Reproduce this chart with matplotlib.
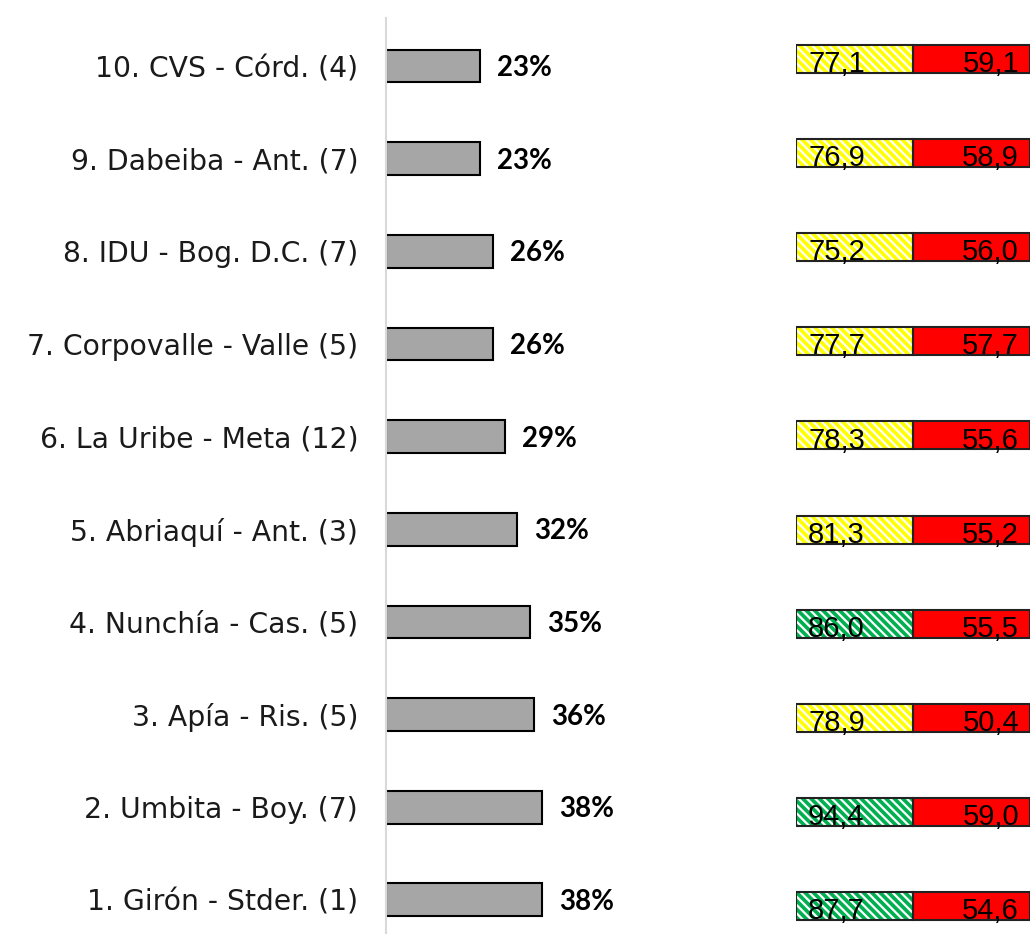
import matplotlib
matplotlib.use("Agg")
import matplotlib.pyplot as plt
import numpy as np

# Data (bottom to top)
categories = ["1. Girón - Stder. (1)", "2. Umbita - Boy. (7)", "3. Apía - Ris. (5)",
              "4. Nunchía - Cas. (5)", "5. Abriaquí - Ant. (3)", "6. La Uribe - Meta (12)",
              "7. Corpovalle - Valle (5)", "8. IDU - Bog. D.C. (7)", "9. Dabeiba - Ant. (7)",
              "10. CVS - Córd. (4)"]
pct_values = [38, 38, 36, 35, 32, 29, 26, 26, 23, 23]
indicator_a = [87.7, 94.4, 78.9, 86.0, 81.3, 78.3, 77.7, 75.2, 76.9, 77.1]
indicator_b = [54.6, 59.0, 50.4, 55.5, 55.2, 55.6, 57.7, 56.0, 58.9, 59.1]
threshold_a = 85.0

plt.rcParams["hatch.linewidth"] = 1.6

W, H = 1030, 934
fig = plt.figure(figsize=(W / 100, H / 100), dpi=100)

def px_axes(x0, y0, x1, y1):
    return fig.add_axes([x0 / W, 1 - y1 / H, (x1 - x0) / W, (y1 - y0) / H])

# Left bar chart
ax = px_axes(386, 18, 780, 934)
y = np.arange(len(categories))
px_per_unit = 4.105
ax.barh(y, pct_values, height=0.356, color="#A6A6A6", edgecolor="black", linewidth=1.5, zorder=2)
ax.set_xlim(0, (780 - 386) / px_per_unit)
ax.set_ylim(-0.367, 9.518)
for s in ["top", "right", "bottom"]:
    ax.spines[s].set_visible(False)
ax.spines["left"].set_color("#D9D9D9")
ax.spines["left"].set_linewidth(1.5)
ax.set_xticks([])
ax.set_yticks(y)
ax.set_yticklabels(categories, fontsize=20.3, family=["DejaVu Sans"], color="#1a1a1a")
ax.tick_params(axis="y", length=0, pad=20)
for yi, v in zip(y, pct_values):
    ax.text(v + 17 / px_per_unit, yi - 0.02, f"{v}%", va="center", ha="left",
            fontsize=20, fontweight="bold", family=["Lato", "DejaVu Sans"], color="black")

# Right indicator boxes
ax2 = px_axes(796, 18, 1030, 934)
ax2.set_xlim(0, 2)
ax2.set_ylim(-0.2976, 9.436)
ax2.axis("off")
bh = 0.2976
colors_a = ["#00B050" if v >= threshold_a else "#FFFF00" for v in indicator_a]
ax2.barh(y, [1] * len(y), left=0, height=bh, color=colors_a, linewidth=0, zorder=1)
ax2.barh(y, [1] * len(y), left=0, height=bh, facecolor="none", edgecolor="white",
         hatch="\\\\\\\\", linewidth=0, zorder=2)
ax2.barh(y, [1] * len(y), left=1, height=bh, color="#FF0000", linewidth=0, zorder=1)
ax2.barh(y, [1] * len(y), left=0, height=bh, facecolor="none", edgecolor="#222222", linewidth=1.5, zorder=3)
ax2.barh(y, [1] * len(y), left=1, height=bh, facecolor="none", edgecolor="#222222", linewidth=1.5, zorder=3)
for yi, a, b in zip(y, indicator_a, indicator_b):
    ax2.text(12 / 117, yi - bh / 2 + 0.01, f"{a:.1f}".replace(".", ","), ha="left", va="baseline",
             fontsize=21, family=["Liberation Sans", "DejaVu Sans"], color="black", zorder=4)
    ax2.text(2 - 11 / 117, yi - bh / 2 + 0.01, f"{b:.1f}".replace(".", ","), ha="right", va="baseline",
             fontsize=21, family=["Liberation Sans", "DejaVu Sans"], color="black", zorder=4)

fig.savefig("out.png", dpi=100)
